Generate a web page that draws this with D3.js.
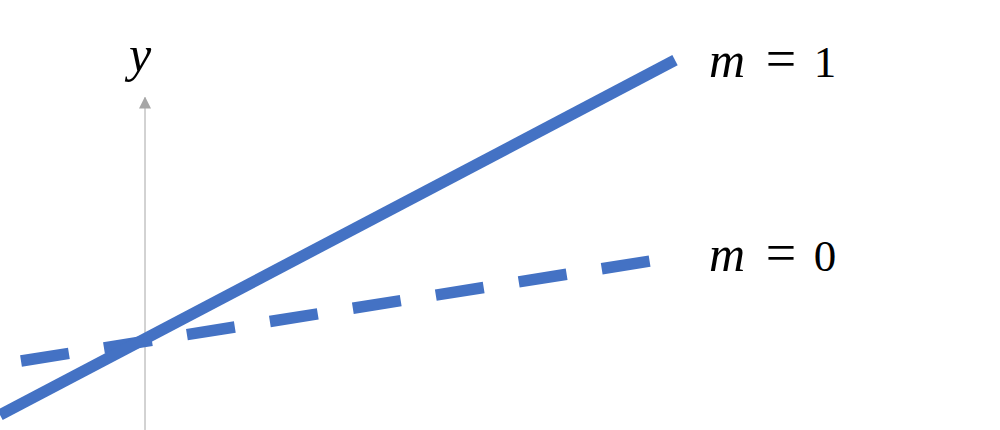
<!DOCTYPE html>
<html>
<head>
<meta charset="utf-8">
<script src="https://cdn.jsdelivr.net/npm/d3@7"></script>
<style>
  body { margin: 0; background: #fff; }
  svg { display: block; }
</style>
</head>
<body>
<script>
// data, in plot units (the y axis sits at x = 0)
const solidX = [-1.45, 5.30];
const solidY = [-1.435, 5.31];
const dashedX = [-1.24, 5.05];
const dashedY = [-0.409, 1.492];
const axisY = [-1.72, 4.6];
const labels = [
  {y: 4.99, slope: "1"},
  {y: 1.30, slope: "0"}
];

const width = 1000, height = 430;
const mathFont = "Liberation Serif";

const svg = d3.select("body").append("svg")
    .attr("width", width)
    .attr("height", height);

const x = d3.scaleLinear()
    .domain([-1.45, 8.55])
    .range([0, 1000]);

const y = d3.scaleLinear()
    .domain([0, 1])
    .range([339.5, 286.9]);

const line = d3.line()
    .x(d => x(d[0]))
    .y(d => y(d[1]));

const blue = "#4472C4";

// y axis with arrow head
svg.append("defs").append("marker")
    .attr("id", "arrow")
    .attr("viewBox", "0 0 12 12")
    .attr("refX", 11)
    .attr("refY", 6)
    .attr("markerWidth", 12)
    .attr("markerHeight", 12)
    .attr("markerUnits", "userSpaceOnUse")
    .attr("orient", "auto")
  .append("path")
    .attr("d", "M0,0L12,6L0,12Z")
    .attr("fill", "#a6a6a6");

svg.append("path")
    .datum([[0, axisY[0]], [0, axisY[1]]])
    .attr("fill", "none")
    .attr("stroke", "#a6a6a6")
    .attr("stroke-width", 1)
    .attr("marker-end", "url(#arrow)")
    .attr("d", line);

svg.append("text")
    .attr("x", x(-0.05))
    .attr("y", 71)
    .attr("text-anchor", "middle")
    .attr("font-family", mathFont)
    .attr("font-style", "italic")
    .attr("font-size", 50)
    .text("y");

// dashed line (m = 0)
svg.append("path")
    .datum(d3.zip(dashedX, dashedY))
    .attr("fill", "none")
    .attr("stroke", blue)
    .attr("stroke-width", 11.5)
    .attr("stroke-dasharray", "48.5,35.5")
    .attr("d", line);

// solid line (m = 1)
svg.append("path")
    .datum(d3.zip(solidX, solidY))
    .attr("fill", "none")
    .attr("stroke", blue)
    .attr("stroke-width", 11.5)
    .attr("d", line);

// labels: m, = and the slope value placed one by one
labels.forEach(d => {
  const t = svg.append("text")
      .attr("y", y(d.y))
      .attr("text-anchor", "middle")
      .attr("font-family", mathFont)
      .attr("font-size", 45)
      .attr("fill", "#000");
  t.append("tspan")
      .attr("x", 727)
      .attr("font-style", "italic")
      .attr("font-size", 50)
      .text("m");
  t.append("tspan")
      .attr("x", 781)
      .attr("font-size", 54)
      .text("=");
  t.append("tspan")
      .attr("x", 825)
      .text(d.slope);
});
</script>
</body>
</html>
